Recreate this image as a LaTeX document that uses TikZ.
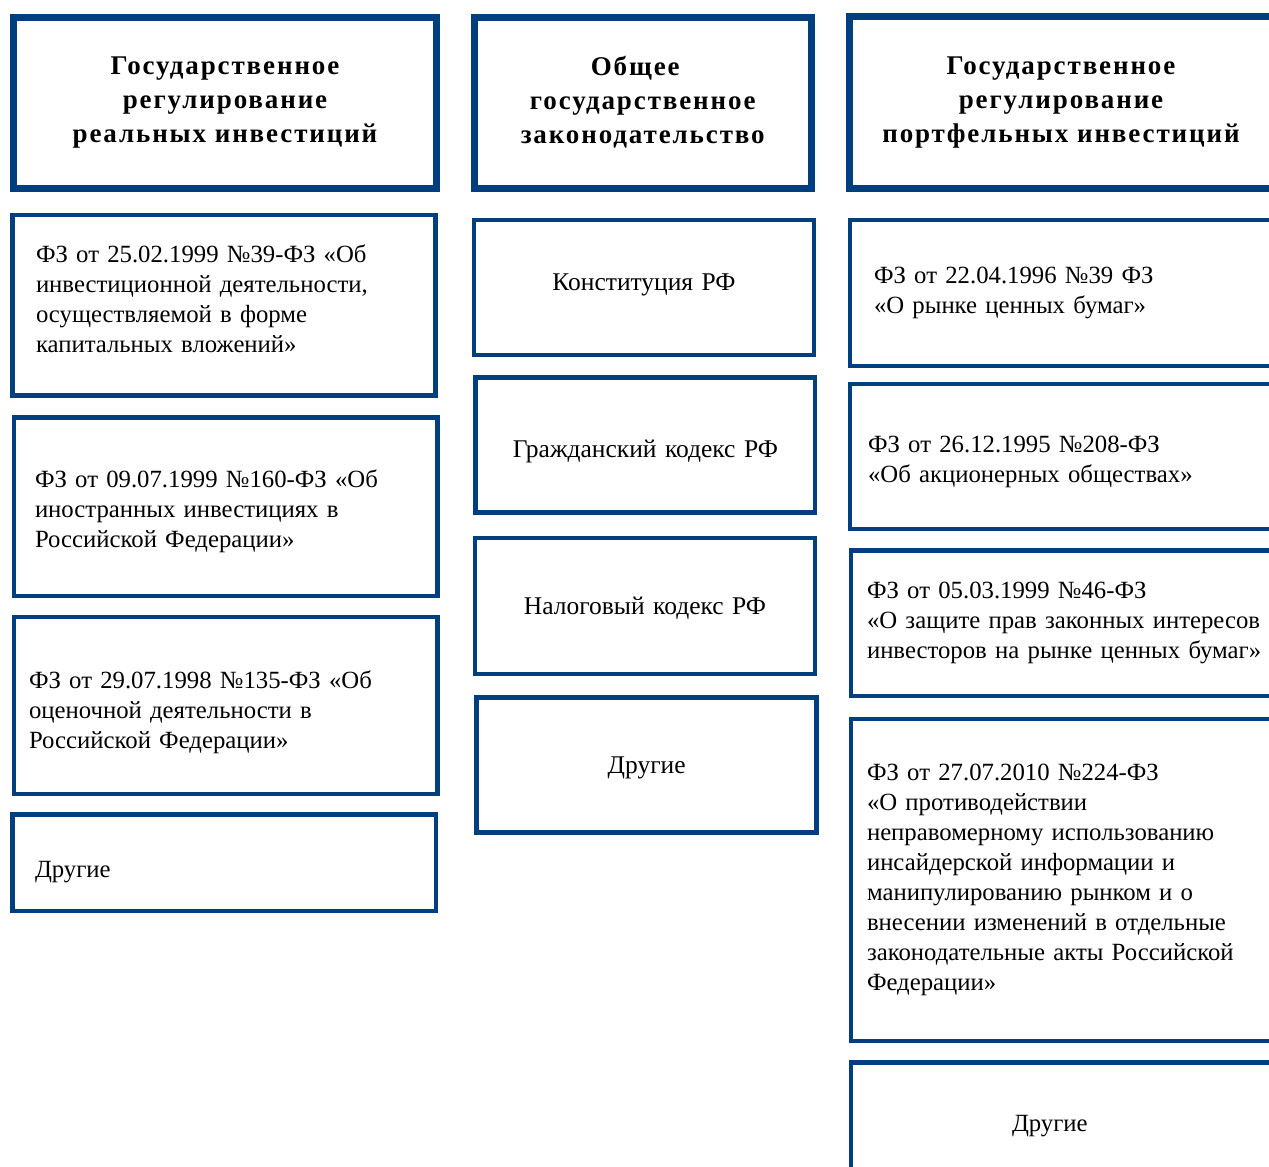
\documentclass[tikz,border=0pt]{standalone}
\usepackage{fontspec}
\setmainfont{Liberation Serif}
\newfontfamily\headfont[LetterSpace=7]{Liberation Serif}
\usetikzlibrary{positioning}
\definecolor{frameblue}{RGB}{0,63,127}

\begin{document}
\begin{tikzpicture}[x=1pt, y=-1pt,
    head/.style={draw=frameblue, line width=7pt, align=center, inner sep=0pt,
        font=\headfont\bfseries\fontsize{27}{34}\selectfont},
    law/.style={draw=frameblue, line width=4.5pt, align=left, inner sep=0pt,
        font=\fontsize{24.75}{30}\selectfont},
    mid/.style={law, align=center, text width=320pt, font=\fontsize{25.5}{30}\selectfont},
    nudge/.style={execute at end node={\endgraf\vspace*{#1}}}]
    \useasboundingbox (0,0) rectangle (1269,1167);

    % left column: real investments
    \node[head, minimum width=423pt, minimum height=171pt] (hr) at (225,102.5) {Государственное\\регулирование\\реальных инвестиций};
    \node[law, nudge=12pt, minimum width=423pt, minimum height=180.5pt, text width=376pt] (r1) at (224,305.25) {ФЗ от 25.02.1999 №39-ФЗ «Об\\инвестиционной деятельности,\\осуществляемой в форме\\капитальных вложений»};
    \node[law, nudge=-10pt, minimum width=423.5pt, minimum height=178.5pt, text width=381.5pt] (r2) at (225.75,506.75) {ФЗ от 09.07.1999 №160-ФЗ «Об\\иностранных инвестициях в\\Российской Федерации»};
    \node[law, nudge=-14pt, minimum width=423.5pt, minimum height=177pt, text width=393.5pt] (r3) at (225.75,705.5) {ФЗ от 29.07.1998 №135-ФЗ «Об\\оценочной деятельности в\\Российской Федерации»};
    \node[law, text height=28.5pt, text depth=0pt, minimum width=423.3pt, minimum height=96.5pt, text width=378.3pt] (r4) at (224.15,862.75) {Другие};

    % middle column: general legislation
    \node[head, minimum width=336.5pt, minimum height=171pt] (hm) at (642.75,102.5) {Общее\hspace*{15pt}\\государственное\\законодательство};
    \node[mid, nudge=6pt, minimum width=340pt, minimum height=135pt] (m1) at (644,287.5) {Конституция РФ};
    \node[mid, text height=24.6pt, text depth=0pt, minimum width=339.3pt, minimum height=135pt] (m2) at (645.35,445) {Гражданский кодекс РФ};
    \node[mid, nudge=-4pt, minimum width=340pt, minimum height=136pt] (m3) at (645,606) {Налоговый кодекс РФ};
    \node[mid, nudge=-6pt, minimum width=340pt, minimum height=135pt] (m4) at (646.7,765) {Другие};

    % right column: portfolio investments
    \node[head, minimum width=424pt, minimum height=171.3pt] (hp) at (1061,102.35) {Государственное\\регулирование\\портфельных инвестиций};
    \node[law, minimum width=440pt, minimum height=146pt, text width=392pt] (p1) at (1070,292.8) {ФЗ от 22.04.1996 №39 ФЗ\\«О рынке ценных бумаг»};
    \node[law, nudge=-10pt, minimum width=440pt, minimum height=145pt, text width=404pt] (p2) at (1070,456.5) {ФЗ от 26.12.1995 №208-ФЗ\\«Об акционерных обществах»};
    \node[law, minimum width=439.2pt, minimum height=145.5pt, text width=406.8pt] (p3) at (1070.4,623.25) {ФЗ от 05.03.1999 №46-ФЗ\\«О защите прав законных интересов\\инвесторов на рынке ценных бумаг»};
    \node[law, minimum width=439pt, minimum height=321.8pt, text width=407pt] (p4) at (1070.5,879.9) {ФЗ от 27.07.2010 №224-ФЗ\\«О противодействии\\неправомерному использованию\\инсайдерской информации и\\манипулированию рынком и о\\внесении изменений в отдельные\\законодательные акты Российской\\Федерации»};
    \node[law, nudge=-4pt, minimum width=439pt, minimum height=123pt, text width=117pt] (p5) at (1070.5,1124) {Другие};
\end{tikzpicture}
\end{document}
